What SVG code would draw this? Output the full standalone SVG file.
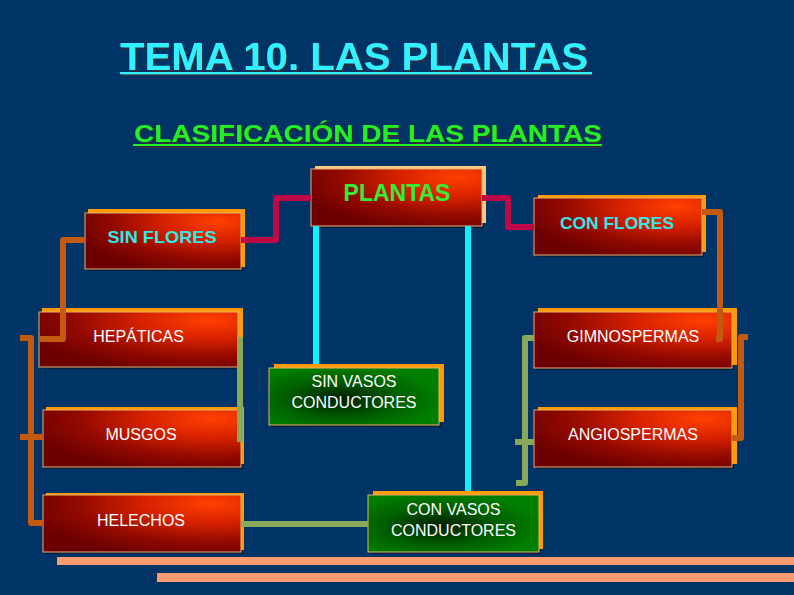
<svg xmlns="http://www.w3.org/2000/svg" width="794" height="595" viewBox="0 0 794 595">
<defs>
<radialGradient id="red" cx="0.85" cy="0.15" r="0.95" fx="0.85" fy="0.15">
<stop offset="0" stop-color="#FF4000"/>
<stop offset="0.35" stop-color="#D82200"/>
<stop offset="0.7" stop-color="#940A00"/>
<stop offset="1" stop-color="#6C0000"/>
</radialGradient>
<radialGradient id="grn" cx="0.42" cy="0.55" r="0.6">
<stop offset="0" stop-color="#001C00"/>
<stop offset="0.55" stop-color="#005E00"/>
<stop offset="1" stop-color="#008000"/>
</radialGradient>
<filter id="tsh" x="-5%" y="-20%" width="110%" height="150%">
<feDropShadow dx="2" dy="2" stdDeviation="0.4" flood-color="#2E2E40" flood-opacity="1"/>
</filter>
<style>
.bx{fill:url(#red);stroke:#E8B070;stroke-width:1}
.gb{fill:url(#grn);stroke:#E8B070;stroke-width:1}
.sh{fill:#FF9A00}
.shp{fill:#FFC880}
.ds{fill:#0A1E38}
.t{font-family:"Liberation Sans",Arial,sans-serif;font-size:16px;fill:#FFFFFF;text-anchor:middle}
.tc{font-family:"Liberation Sans",Arial,sans-serif;font-size:17px;font-weight:bold;fill:#33E8E8;text-anchor:middle}
.c{fill:none;stroke-width:6;stroke-linejoin:round;stroke-linecap:butt}
.cr{stroke:#BE0848}
.cy{stroke:#10EEFF}
.ol{stroke:#8AA85A}
.br{stroke:#C25A10}
</style>
</defs>
<rect width="794" height="595" fill="#003366"/>

<g id="title" filter="url(#tsh)">
<text x="120" y="70" font-family="Liberation Sans,Arial,sans-serif" font-size="39" font-weight="bold" fill="#33F0FF" textLength="468" lengthAdjust="spacingAndGlyphs">TEMA 10. LAS PLANTAS</text>
<rect x="120" y="72" width="472" height="2.2" fill="#33F0FF"/>
</g>

<g id="subtitle" filter="url(#tsh)">
<text x="134" y="142" font-family="Liberation Sans,Arial,sans-serif" font-size="23" font-weight="bold" fill="#22F022" textLength="468" lengthAdjust="spacingAndGlyphs">CLASIFICACIÓN DE LAS PLANTAS</text>
<rect x="133" y="144" width="469" height="2" fill="#22F022"/>
</g>

<g id="plantas">
<rect class="ds" x="313" y="171" width="171" height="57"/>
<rect class="shp" x="315" y="166" width="171" height="57"/>
<rect class="bx" x="311" y="169" width="171" height="57" stroke="#FFD090"/>
<text x="397" y="201" font-family="Liberation Sans,Arial,sans-serif" font-size="23" font-weight="bold" fill="#33EE33" text-anchor="middle">PLANTAS</text>
</g>

<g id="sin-flores">
<rect class="ds" x="87" y="215" width="156" height="56"/>
<rect class="sh" x="88" y="209" width="157" height="58"/>
<rect class="bx" x="85" y="213" width="156" height="56"/>
<text class="tc" x="162" y="243" textLength="109" lengthAdjust="spacingAndGlyphs">SIN FLORES</text>
</g>

<g id="con-flores">
<rect class="ds" x="536" y="200" width="168" height="57"/>
<rect class="sh" x="538" y="195" width="168" height="57"/>
<rect class="bx" x="534" y="198" width="168" height="57"/>
<text class="tc" x="617" y="229" textLength="114" lengthAdjust="spacingAndGlyphs">CON FLORES</text>
</g>

<g id="hepaticas">
<rect class="ds" x="41" y="314" width="199" height="55"/>
<rect class="sh" x="42" y="308" width="201" height="57"/>
<rect class="bx" x="39" y="312" width="199" height="55"/>
<text class="t" x="138.5" y="342">HEPÁTICAS</text>
</g>

<g id="musgos">
<rect class="ds" x="45" y="412" width="198" height="57"/>
<rect class="sh" x="46" y="407" width="198" height="57"/>
<rect class="bx" x="43" y="410" width="198" height="57"/>
<text class="t" x="141" y="440">MUSGOS</text>
</g>

<g id="helechos">
<rect class="ds" x="45" y="497" width="198" height="57"/>
<rect class="sh" x="46" y="493" width="198" height="57"/>
<rect class="bx" x="43" y="495" width="198" height="57"/>
<text class="t" x="141" y="526">HELECHOS</text>
</g>

<g id="gimnospermas">
<rect class="ds" x="536" y="314" width="198" height="56"/>
<rect class="sh" x="538" y="308" width="199" height="57"/>
<rect class="bx" x="534" y="312" width="198" height="56"/>
<text class="t" x="633" y="342">GIMNOSPERMAS</text>
</g>

<g id="angiospermas">
<rect class="ds" x="536" y="412" width="198" height="57"/>
<rect class="sh" x="538" y="407" width="199" height="57"/>
<rect class="bx" x="534" y="410" width="198" height="57"/>
<text class="t" x="633" y="440">ANGIOSPERMAS</text>
</g>

<g id="sin-vasos">
<rect class="ds" x="271" y="370" width="170" height="57"/>
<rect class="sh" x="274" y="364" width="170" height="58"/>
<rect class="gb" x="269" y="368" width="170" height="57"/>
<text class="t" x="354" y="387">SIN VASOS</text>
<text class="t" x="354" y="408">CONDUCTORES</text>
</g>

<g id="con-vasos">
<rect class="ds" x="370" y="497" width="171" height="57"/>
<rect class="sh" x="373" y="491" width="170" height="58"/>
<rect class="gb" x="368" y="495" width="171" height="57"/>
<text class="t" x="453.5" y="515">CON VASOS</text>
<text class="t" x="453.5" y="536">CONDUCTORES</text>
</g>

<g id="connectors">
<path class="c cr" d="M311,198 H276 V240 H241"/>
<path class="c cr" d="M482,198 H508 V227 H534"/>
<path class="c cy" d="M316,226 V364"/>
<path class="c cy" d="M468,226 V491"/>
<path class="c ol" d="M241,524 H368"/>
<path class="c ol" d="M240,337 V442"/>
<path class="c ol" d="M534,338 H525 V483 H516"/>
<path class="c ol" d="M515,442 H534"/>
<path class="c br" d="M85,240 H63 V339 H40"/>
<path class="c br" d="M20,338 H31 V523 H43"/>
<path class="c br" d="M20,437 H43"/>
<path class="c br" d="M702,212 H720 V339 H716"/>
<path class="c br" d="M748,337 H741 V438 H732"/>
</g>

<g id="bars">
<rect x="57" y="557" width="737" height="8" fill="#FA9B70"/>
<rect x="157" y="573" width="637" height="9" fill="#FA9B70"/>
</g>
</svg>
